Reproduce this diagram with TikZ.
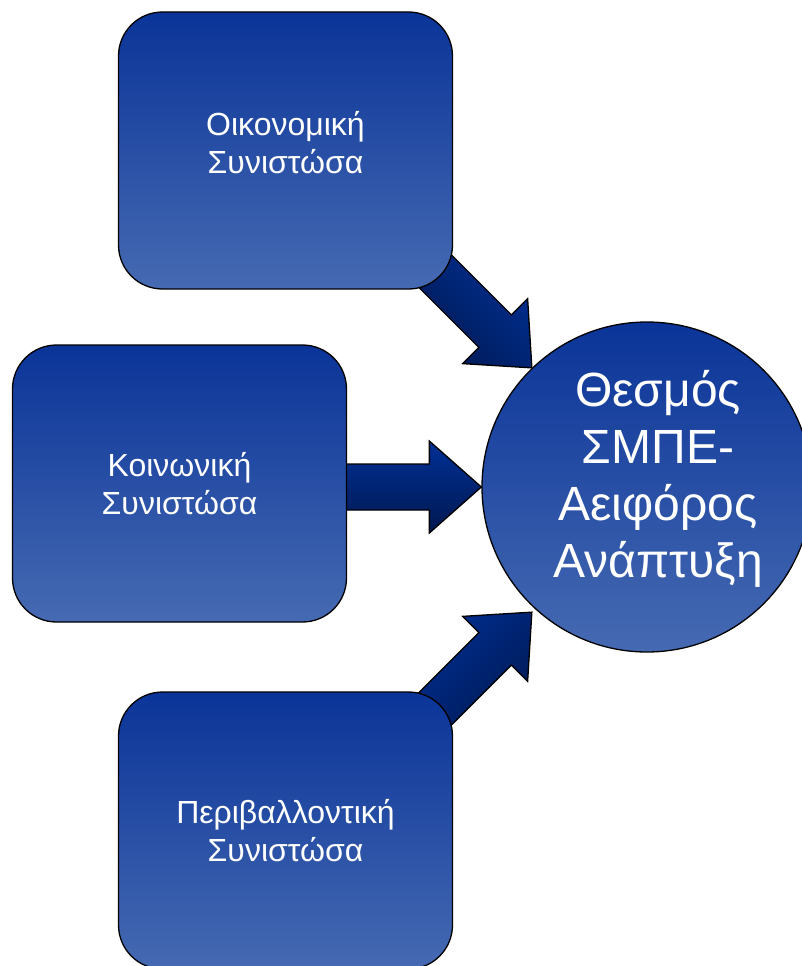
\documentclass[tikz,border=0pt]{standalone}
\usepackage{fontspec}
\setmainfont{Liberation Sans}
\usetikzlibrary{calc,backgrounds}
\definecolor{boxtop}{RGB}{10,52,152}
\definecolor{boxbottom}{RGB}{70,106,178}
\definecolor{arrowlight}{RGB}{0,48,150}
\definecolor{arrowdark}{RGB}{0,24,80}
\tikzset{
  part/.style={draw, line width=1.3pt, rounded corners=44pt, top color=boxtop, bottom color=boxbottom,
    minimum width=334pt, minimum height=277pt, text=white, align=center, font=\fontsize{32}{38}\selectfont},
  hub/.style={draw, circle, line width=1.3pt, top color=boxtop, bottom color=boxbottom, minimum size=330pt, inner sep=0pt},
  hublabel/.style={text=white, align=center, inner sep=0pt, font=\fontsize{48}{57}\selectfont},
  bigarrow/.style={draw, line width=1.3pt, line join=miter, top color=arrowlight, bottom color=arrowdark}
}

\begin{document}
\begin{tikzpicture}[x=1pt,y=-1pt]
\useasboundingbox (0,0) rectangle (802,966);
\clip (0,0) rectangle (802,966);
\node [part, text depth=16pt] (oikonomiki) at (285.5,150.5) {Οικονομική\\Συνιστώσα};
\node [part] (koinoniki) at (179.5,483.5) {Κοινωνική\\Συνιστώσα};
\node [part] (perivallontiki) at (285.5,830.5) {Περιβαλλοντική\\Συνιστώσα};
\node [hub] (thesmos) at (647,487) {};
\node [hublabel] (thesmoslabel) at (658,479) {Θεσμός\\ΣΜΠΕ-\\Αειφόρος\\Ανάπτυξη};
\begin{pgfonlayer}{background}
\draw [bigarrow, shift={($(thesmos.135)+(2,-2)$)}, rotate=-45, shading angle=-45] (0,0) -- (-52,46) -- (-52,23) -- (-170,23) -- (-170,-23) -- (-52,-23) -- (-52,-46) -- cycle;
\draw [bigarrow, shift={(thesmos.west)}] (0,0) -- (-52,46) -- (-52,23) -- (-170,23) -- (-170,-23) -- (-52,-23) -- (-52,-46) -- cycle;
\draw [bigarrow, shift={($(thesmos.225)+(2,8)$)}, rotate=45, shading angle=45] (0,0) -- (-52,46) -- (-52,23) -- (-170,23) -- (-170,-23) -- (-52,-23) -- (-52,-46) -- cycle;
\end{pgfonlayer}
\end{tikzpicture}
\end{document}
